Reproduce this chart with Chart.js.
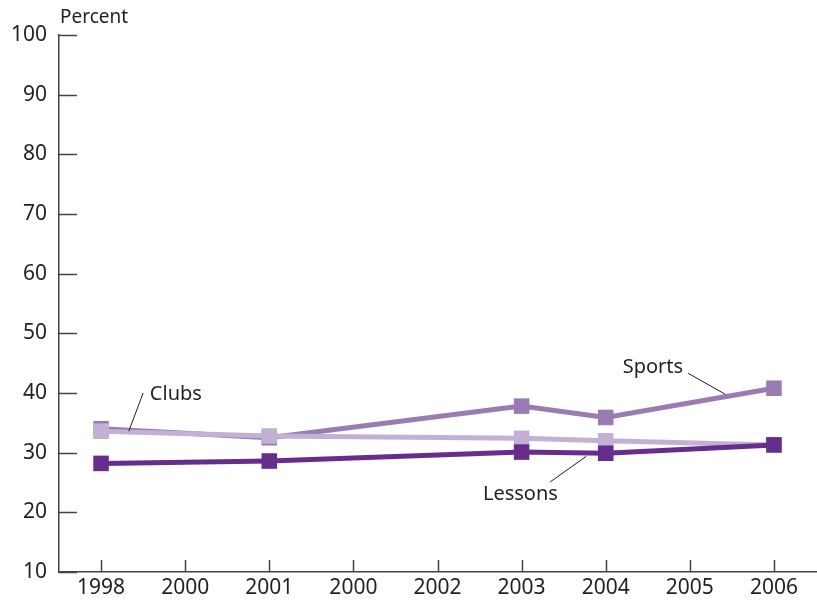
<!DOCTYPE html>
<html>
<head>
<meta charset="utf-8">
<script src="https://cdn.jsdelivr.net/npm/chart.js@4/dist/chart.umd.min.js"></script>
<style>
html,body{margin:0;padding:0;background:#fff;}
#wrap{position:relative;width:817px;height:602px;}
</style>
</head>
<body>
<div id="wrap"><canvas id="c" width="817" height="602"></canvas></div>
<script>
const categories = ["1998","2000","2001","2000","2002","2003","2004","2005","2006"];
const sports  = [34.0, null, 32.5, null, null, 37.8, 35.9, null, 40.8];
const clubs   = [33.6, null, 32.8, null, null, 32.4, 32.0, null, 31.3];
const lessons = [28.2, null, 28.6, null, null, 30.1, 29.9, null, 31.3];
const yTicks = [10,20,30,40,50,60,70,80,90,100];

const colors = {lessons:"#662d8c", sports:"#9a7bb4", clubs:"#c2b0d5"};
const ink = "#231f20";
const FONT = "'Noto Sans', sans-serif";

// annotation positions in data coordinates (category index, value)
const notes = [
  {text:"Clubs",   tx:0.58, ty:39.8, align:"left",  line:[[0.50,40.0],[0.33,33.6]]},
  {text:"Sports",  tx:6.92, ty:44.3, align:"right", line:[[6.98,43.3],[7.42,39.8]]},
  {text:"Lessons", tx:4.54, ty:23.0, align:"left",  line:[[5.34,25.1],[5.77,29.4]]}
];

function ds(label, data, color){
  return {label, data, borderColor:color, backgroundColor:color,
    borderWidth:5, pointStyle:'rect', pointRadius:11, pointHoverRadius:11,
    pointBorderWidth:0, spanGaps:true, tension:0};
}

const decor = {
  id:'decor',
  beforeDatasetsDraw(chart){
    const ctx = chart.ctx, x = chart.scales.x, y = chart.scales.y;
    const a = chart.chartArea;
    ctx.save();
    ctx.strokeStyle = "#444";
    ctx.lineWidth = 1.5;
    ctx.beginPath();
    yTicks.forEach(v=>{
      const py = Math.round(y.getPixelForValue(v))+0.5;
      ctx.moveTo(a.left, py); ctx.lineTo(a.left+18, py);
    });
    for(let i=0;i<categories.length;i++){
      const px = Math.round(x.getPixelForValue(i))+0.5;
      ctx.moveTo(px, a.bottom); ctx.lineTo(px, a.bottom-12);
    }
    ctx.stroke();
    ctx.fillStyle = ink;
    ctx.font = "19px " + FONT;
    ctx.textAlign = "left"; ctx.textBaseline = "middle";
    ctx.fillText("Percent", a.left+1, 18);
    ctx.restore();
  },
  afterDatasetsDraw(chart){
    const ctx = chart.ctx, x = chart.scales.x, y = chart.scales.y;
    ctx.save();
    ctx.strokeStyle = ink; ctx.lineWidth = 1;
    ctx.fillStyle = ink;
    ctx.font = "20px " + FONT;
    ctx.textBaseline = "middle";
    notes.forEach(n=>{
      ctx.beginPath();
      ctx.moveTo(x.getPixelForValue(n.line[0][0]), y.getPixelForValue(n.line[0][1]));
      ctx.lineTo(x.getPixelForValue(n.line[1][0]), y.getPixelForValue(n.line[1][1]));
      ctx.stroke();
      ctx.textAlign = n.align;
      ctx.fillText(n.text, x.getPixelForValue(n.tx), y.getPixelForValue(n.ty));
    });
    ctx.restore();
  }
};

new Chart(document.getElementById('c'), {
  type:'line',
  data:{
    labels:categories,
    datasets:[
      ds("Lessons", lessons, colors.lessons),
      ds("Clubs", clubs, colors.clubs),
      ds("Sports", sports, colors.sports)
    ]
  },
  options:{
    responsive:false,
    animation:false,
    layout:{autoPadding:false, padding:{top:35, right:1, left:0, bottom:0}},
    plugins:{legend:{display:false}, tooltip:{enabled:false}},
    scales:{
      x:{
        type:'category',
        offset:true,
        grid:{display:true, drawOnChartArea:false, drawTicks:false, offset:false},
        border:{display:true, color:"#444", width:1.5},
        ticks:{color:ink, font:{family:FONT, size:21}, padding:3, maxRotation:0, autoSkip:false},
        afterFit(s){ s.height = 30; s.paddingLeft = 0; s.paddingRight = 0; }
      },
      y:{
        min:10, max:100,
        grid:{display:true, drawOnChartArea:false, drawTicks:false},
        border:{display:true, color:"#444", width:1.5},
        ticks:{stepSize:10, color:ink, font:{family:FONT, size:21}, padding:12},
        afterFit(s){ s.width = 59; s.paddingTop = 0; s.paddingBottom = 0; }
      }
    }
  },
  plugins:[decor]
});
</script>
</body>
</html>
